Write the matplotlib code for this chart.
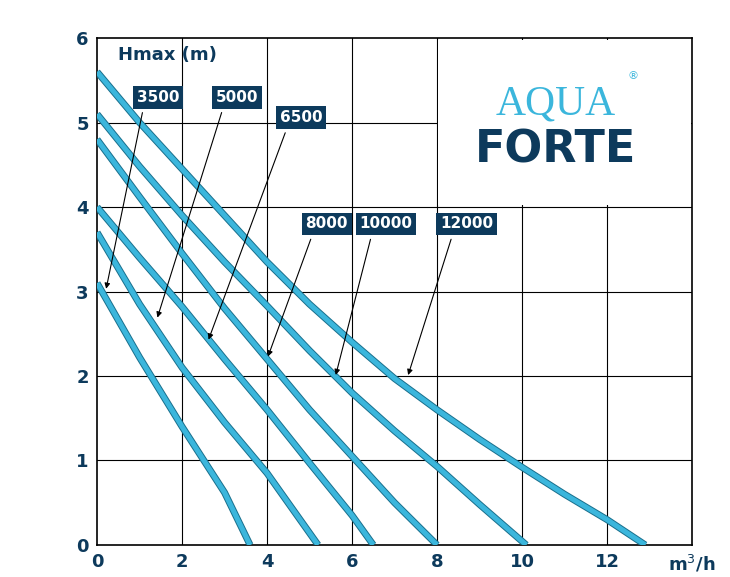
import matplotlib
matplotlib.use("Agg")
import matplotlib.pyplot as plt
import matplotlib.patheffects as pe
from matplotlib.patches import Rectangle

models = ["3500", "5000", "6500", "8000", "10000", "12000"]
flows = [
    [0, 1, 2, 3, 3.6],
    [0, 1, 2, 3, 4, 5.2],
    [0, 1, 2, 3, 4, 5, 6, 6.5],
    [0, 1, 2, 3, 4, 5, 6, 7, 8],
    [0, 1, 2, 3, 4, 5, 6, 7, 8, 9, 10.1],
    [0, 1, 2, 3, 4, 5, 6, 7, 8, 9, 10, 11, 12, 12.9],
]
heads = [
    [3.1, 2.22, 1.4, 0.62, 0.0],
    [3.7, 2.85, 2.1, 1.45, 0.85, 0.0],
    [4.0, 3.4, 2.82, 2.2, 1.6, 0.97, 0.35, 0.0],
    [4.8, 4.12, 3.45, 2.8, 2.2, 1.6, 1.05, 0.5, 0.0],
    [5.1, 4.48, 3.9, 3.35, 2.83, 2.3, 1.8, 1.35, 0.93, 0.48, 0.0],
    [5.6, 5.0, 4.45, 3.9, 3.35, 2.85, 2.4, 1.97, 1.6, 1.25, 0.92, 0.6, 0.3, 0.0],
]
label_pos = [(1.43, 5.3), (3.3, 5.3), (4.8, 5.06), (5.4, 3.8), (6.8, 3.8), (8.7, 3.8)]
arrow_tip = [(0.2, 3.0), (1.4, 2.66), (2.6, 2.4), (4.0, 2.2), (5.6, 1.98), (7.3, 1.98)]
xticks = [0, 2, 4, 6, 8, 10, 12]
yticks = [0, 1, 2, 3, 4, 5, 6]

navy = "#0d3a5c"
cyan = "#3bb6dc"

fig = plt.figure(figsize=(7.3, 5.77), dpi=100)
ax = fig.add_axes([0.133, 0.0555, 0.815, 0.8785])
ax.set_xlim(0, 14)
ax.set_ylim(0, 6)
for x in range(2, 14, 2):
    ax.axvline(x, color="black", lw=0.8, zorder=1)
for y in range(1, 6):
    ax.axhline(y, color="black", lw=0.8, zorder=1)
ax.add_patch(Rectangle((8.02, 4.02), 5.96, 1.96, facecolor="white", edgecolor="none", zorder=1.5))

for fx, hy in zip(flows, heads):
    ax.plot(fx, hy, color=cyan, lw=3.6, solid_capstyle="butt", solid_joinstyle="round", zorder=3,
            path_effects=[pe.Stroke(linewidth=5, foreground="#1a6f8c"), pe.Normal()])

for m, (lx, ly), (tx, ty) in zip(models, label_pos, arrow_tip):
    ax.annotate("", xy=(tx, ty), xytext=(lx - 0.35, ly - 0.15),
                arrowprops=dict(arrowstyle="-|>", color="black", lw=0.8, mutation_scale=8), zorder=4)
    ax.text(lx, ly, m, ha="center", va="center", color="white", fontsize=11, fontweight="bold",
            bbox=dict(boxstyle="square,pad=0.25", facecolor=navy, edgecolor="none"), zorder=5)

ax.text(0.5, 5.8, "Hmax (m)", color=navy, fontsize=13, fontweight="bold", va="center")
ax.text(10.8, 5.22, "AQUA", color=cyan, fontsize=30, family="Liberation Serif", ha="center", va="center")
ax.text(10.8, 4.67, "FORTE", color=navy, fontsize=32, fontweight="bold", ha="center", va="center")
ax.text(12.6, 5.55, "®", color=cyan, fontsize=8, ha="center", va="center")

ax.set_xticks(xticks + [14])
ax.set_xticklabels([str(v) for v in xticks] + ["m$^3$/h"])
ax.set_yticks(yticks)
ax.tick_params(length=0, labelsize=13, labelcolor=navy, pad=6)
for lab in ax.get_xticklabels() + ax.get_yticklabels():
    lab.set_fontweight("bold")
for s in ax.spines.values():
    s.set_linewidth(1.2)
fig.savefig("out.png", dpi=100)
